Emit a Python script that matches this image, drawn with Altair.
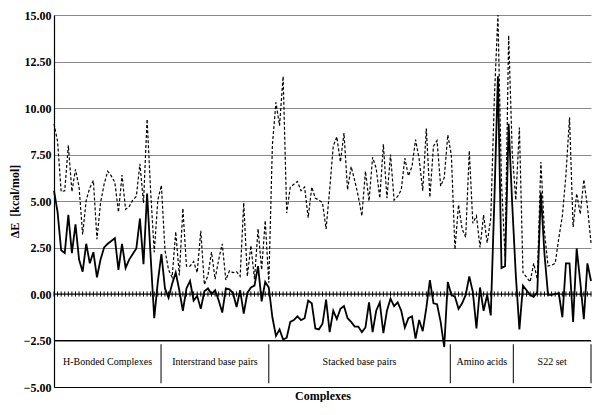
import altair as alt
import pandas as pd

# --- data ---
solid = [
    5.55, 4.4, 2.35, 2.2, 4.25, 2.2, 3.75, 1.85, 1.2, 2.7,
    1.65, 2.25, 0.9, 1.85, 2.5, 2.7, 2.85, 3.0, 1.3, 2.7,
    1.4, 1.85, 2.15, 2.45, 4.05, 1.6, 5.4, 2.0, -1.3, 0.65,
    2.15, 0.3, -0.2, 0.55, 1.15, 0.2, -0.9, 0.3, 0.7, -0.35,
    -0.1, -0.8, 0.15, 0.3, 0.0, 0.2, -0.35, -1.0, 0.3, 0.25,
    0.05, -0.7, 0.2, -1.05, 0.05, 0.35, 0.45, 1.5, -0.4, 0.65,
    0.35,
    -1.25, -2.25, -1.9, -2.45, -2.35, -1.5, -1.4, -1.2, -1.4, -1.3,
    -0.35, -0.5, -1.85, -1.9, -1.6, -0.3,
    -2.05, -0.9, -1.35, -0.8, -0.65, -1.3, -1.5, -1.75, -1.75, -2.05,
    -1.8, -0.45, -2.05, -0.9, -0.45, -2.1, -0.9, -0.25, -0.65, -0.45,
    -0.9, -1.8, -1.3, -1.2, -2.4,
    -1.4, -2.0, -0.75, 0.75, -0.5, -0.55, -1.5, -2.85, 0.65,
    -0.05, -0.15, -0.8, -0.5, -0.05, 0.95, 0.1, -1.85, 0.35, -0.9,
    -0.05, -1.15, 5.0, 11.7, 1.4, 1.5, 9.15, 4.8,
    1.0, -1.9, 0.45, 0.2, -0.05, -0.15, 0.1, 5.45, 2.15, -0.05,
    -0.05, 0.0, 0.05, -1.25, 1.65, 1.65, -1.5, 2.45, 0.65, -1.35,
    1.65, 0.7,
]

dashed = [
    9.15, 8.2, 5.5, 5.55, 8.0, 5.5, 6.7, 5.75, 3.2, 5.05,
    5.7, 6.1, 2.95, 4.9, 5.9, 6.6, 6.35, 6.0, 4.4, 6.4,
    4.55, 4.7, 5.05, 5.25, 7.0, 4.9, 9.4, 5.5, 2.25, 5.05,
    5.85, 2.35, 1.3, 0.9, 3.35, 1.0, 4.6, 1.5, 1.5, 1.75,
    1.15, 3.4, 0.5, 1.0, 2.25, 0.8, 1.85, 2.7, 0.75, 1.25,
    1.15, 1.2, 0.95, 4.9, 0.95, 2.6, 0.8, 3.5, 1.3, 3.95,
    0.6,
    8.0, 10.3, 9.05, 11.7, 4.35, 5.75, 5.9, 6.05, 5.55, 5.75,
    4.1, 5.75, 5.15, 5.05, 4.9, 3.5,
    5.6, 7.95, 8.45, 7.1, 8.65, 5.6, 6.85, 6.1, 5.25, 4.2,
    6.6, 5.0, 7.35, 6.75, 5.15, 8.05, 5.15, 7.5, 5.05, 5.25,
    5.6, 7.3, 6.35, 6.85, 8.3,
    7.25, 5.55, 8.9, 5.2, 7.95, 8.25, 5.8, 6.25, 8.55,
    7.45, 2.4, 4.8, 3.5, 3.05, 7.7, 3.8, 4.2, 2.5, 4.25,
    2.75, 4.05, 10.5, 15.0, 6.0, 2.0, 13.9, 7.6,
    5.05, 8.95, 1.15, 0.9, 0.65, 1.65, 0.8, 7.1, 3.35, 1.5,
    1.55, 1.65, 3.0, 4.2, 6.4, 9.5, 3.6, 5.4, 4.3, 6.15,
    4.7, 2.75,
]

groups = ["H-Bonded Complexes", "Interstrand base pairs", "Stacked base pairs",
          "Amino acids", "S22 set"]
# group boundaries, in category-index units
separators = [29.9, 60.0, 110.7, 128.3, 150.0]
y_ticks = [-5, -2.5, 0, 2.5, 5, 7.5, 10, 12.5, 15]

# --- tables ---
n = len(solid)
df = pd.DataFrame({"i": list(range(n)), "solid": solid, "dashed": dashed})
bounds = [0.0] + separators
label_df = pd.DataFrame({
    "label": groups,
    "x": [(a + b) / 2 for a, b in zip(bounds[:-1], bounds[1:])],
})
sep_df = pd.DataFrame({"x": separators})
hline_df = pd.DataFrame({"y": [0.0, -2.5]})

FONT = "Liberation Serif"
xscale = alt.Scale(domain=[0, n - 1], nice=False, zero=False)
yscale = alt.Scale(domain=[-5, 15], nice=False, zero=False)

base = alt.Chart(df)

dashed_line = base.mark_line(color="black", strokeWidth=1.2, strokeDash=[3, 2]).encode(
    x=alt.X("i:Q", scale=xscale,
            axis=alt.Axis(title="Complexes", labels=False, ticks=False, tickSize=0,
                          grid=False, domainColor="black", domainWidth=1,
                          titleFont=FONT, titleFontSize=12, titleFontWeight="bold",
                          titleColor="black", titlePadding=3)),
    y=alt.Y("dashed:Q", scale=yscale,
            axis=alt.Axis(values=y_ticks, format=".2f", title="ΔE \u00a0[kcal/mol]",
                          grid=True, gridColor="#8a8a8a", gridWidth=1,
                          ticks=False, tickSize=0, labelPadding=3,
                          domainColor="black", domainWidth=1.2,
                          labelFont=FONT, labelFontSize=12, labelFontWeight="bold",
                          labelColor="black",
                          titleFont=FONT, titleFontSize=12, titleFontWeight="bold",
                          titleColor="black", titlePadding=2)),
)

solid_line = base.mark_line(color="black", strokeWidth=1.8).encode(
    x=alt.X("i:Q", scale=xscale),
    y=alt.Y("solid:Q", scale=yscale),
)

zero_ticks = base.mark_rule(color="black", strokeWidth=1).encode(
    x=alt.X("i:Q", scale=xscale),
    y=alt.datum(-0.14, scale=yscale),
    y2=alt.datum(0.14),
)

hlines = alt.Chart(hline_df).mark_rule(color="black", strokeWidth=1).encode(
    y=alt.Y("y:Q", scale=yscale),
)

seps = alt.Chart(sep_df).mark_rule(color="black", strokeWidth=1).encode(
    x=alt.X("x:Q", scale=xscale),
    y=alt.datum(-2.7, scale=yscale),
    y2=alt.datum(-4.8),
)

labels = alt.Chart(label_df).mark_text(font=FONT, fontSize=10, color="black").encode(
    x=alt.X("x:Q", scale=xscale),
    y=alt.datum(-3.65, scale=yscale),
    text="label:N",
)

chart = alt.layer(dashed_line, hlines, zero_ticks, seps, labels, solid_line).properties(
    width=537,
    height=372,
    padding={"left": 46, "top": 7, "right": 1, "bottom": 15},
    autosize=alt.AutoSizeParams(type="none"),
    background="white",
).configure_view(stroke=None)

chart.save("out.html", embed_options={"renderer": "svg", "actions": False})
